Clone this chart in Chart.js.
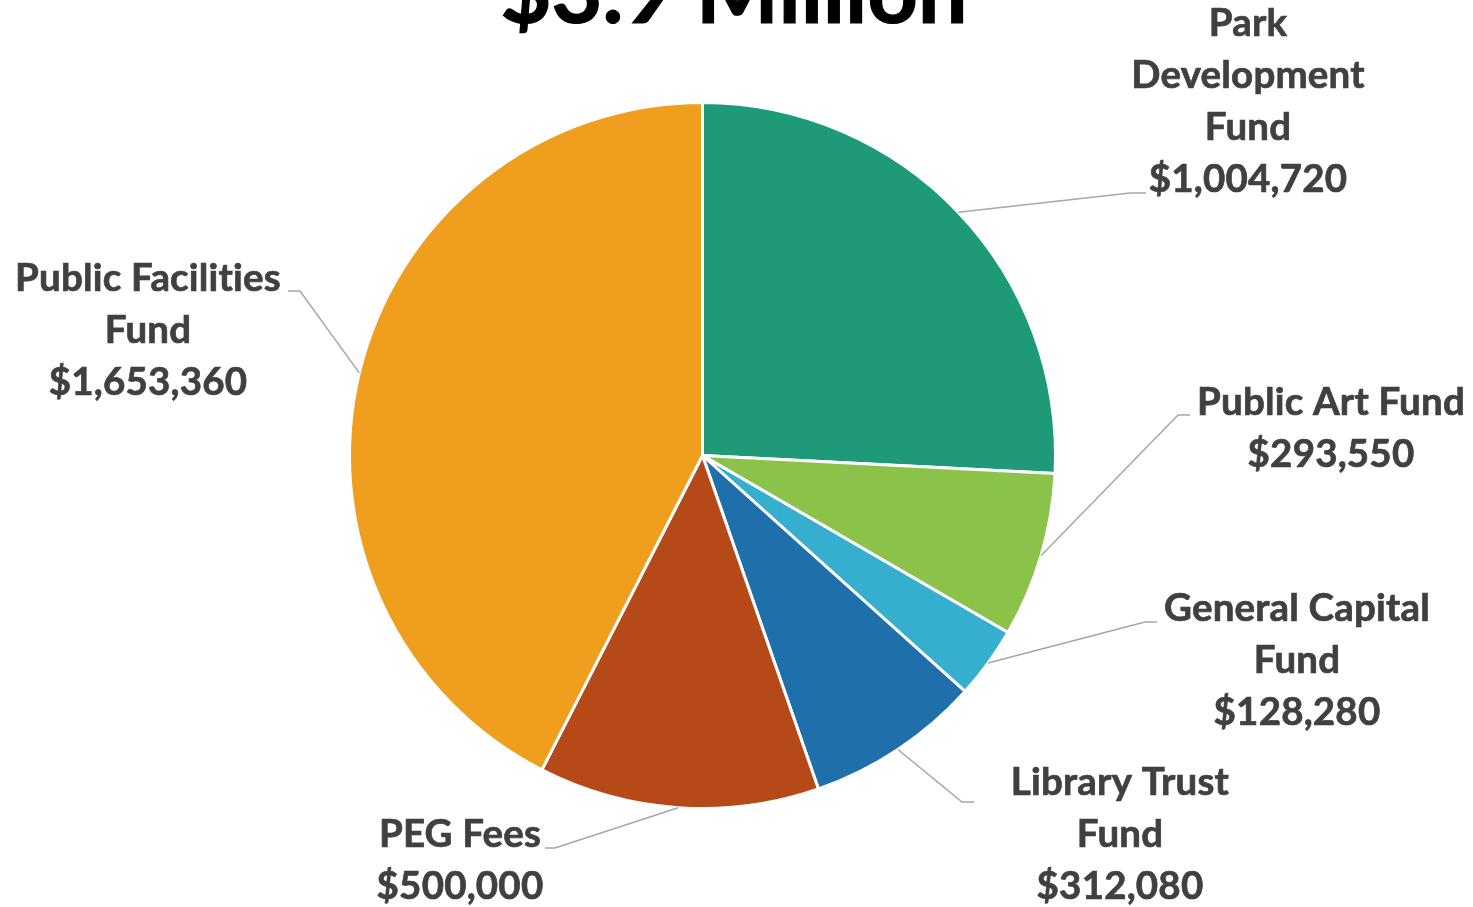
<!DOCTYPE html>
<html>
<head>
<meta charset="utf-8">
<script src="https://cdn.jsdelivr.net/npm/chart.js@4.4.1/dist/chart.umd.min.js"></script>
<style>
  html,body{margin:0;padding:0;background:#fff;}
  #wrap{width:1473px;height:907px;position:relative;}
</style>
</head>
<body>
<div id="wrap"><canvas id="c" width="1473" height="907"></canvas></div>
<script>
const categories = ["Park Development Fund","Public Art Fund","General Capital Fund","Library Trust Fund","PEG Fees","Public Facilities Fund"];
const values = [1004720, 293550, 128280, 312080, 500000, 1653360];
const labelLines = [
  ["Park","Development","Fund"],
  ["Public Art Fund"],
  ["General Capital","Fund"],
  ["Library Trust","Fund"],
  ["PEG Fees"],
  ["Public Facilities","Fund"]
];
const titleText = "$3.9 Million";

const colors = ["#1E9A78","#8BC34A","#36AFCF","#1F6FAA","#B54918","#F09E1D"];
// label layout: text center x, first baseline y, elbow point, line end
const labelLayout = [
  {x:1248, y:36,  elbow:[1130,193], end:[1146,193]},
  {x:1331, y:415, elbow:[1178,415], end:[1190,415]},
  {x:1297, y:621, elbow:[1145,622], end:[1157,622]},
  {x:1120, y:795, elbow:[962,802],  end:[974,802]},
  {x:460,  y:847, elbow:[555,848],  end:[545,848]},
  {x:148,  y:291, elbow:[300,291],  end:[288,291]}
];
const FONT = "Lato";
const fmt = v => "$" + v.toLocaleString("en-US");

function fitFont(ctx, text, width, weight, family){
  ctx.font = weight + " 100px " + family;
  const w = ctx.measureText(text).width;
  return 100 * width / w;
}

const labelPlugin = {
  id: 'labelPlugin',
  afterDraw(chart){
    const ctx = chart.ctx;
    const meta = chart.getDatasetMeta(0);
    ctx.save();
    if ('letterSpacing' in ctx) ctx.letterSpacing = "0.2px";
    // title
    const ts = fitFont(ctx, titleText, 467, "bold", FONT);
    ctx.font = "bold " + ts + "px " + FONT;
    ctx.fillStyle = "#000";
    ctx.strokeStyle = "#000";
    ctx.lineWidth = 1.2;
    ctx.textAlign = "center";
    ctx.textBaseline = "alphabetic";
    ctx.fillText(titleText, 734, 23);
    ctx.strokeText(titleText, 734, 23);

    const fs = fitFont(ctx, "Public Art Fund", 266, "bold", FONT);
    meta.data.forEach((arc, i) => {
      const p = arc.getProps(['x','y','startAngle','endAngle','outerRadius'], true);
      const mid = (p.startAngle + p.endAngle) / 2;
      const sx = p.x + Math.cos(mid) * p.outerRadius;
      const sy = p.y + Math.sin(mid) * p.outerRadius;
      const L = labelLayout[i];
      ctx.strokeStyle = "#A6A6A6";
      ctx.lineWidth = 1.5;
      ctx.beginPath();
      ctx.moveTo(sx, sy);
      ctx.lineTo(L.elbow[0], L.elbow[1]);
      ctx.lineTo(L.end[0], L.end[1]);
      ctx.stroke();
      const lines = labelLines[i].concat([fmt(values[i])]);
      ctx.font = "bold " + fs + "px " + FONT;
      ctx.fillStyle = "#404040";
      ctx.strokeStyle = "#404040";
      ctx.lineWidth = 0.7;
      ctx.textAlign = "center";
      lines.forEach((t, k) => {
        ctx.fillText(t, L.x, L.y + k * 52);
        ctx.strokeText(t, L.x, L.y + k * 52);
      });
    });
    ctx.restore();
  }
};

new Chart(document.getElementById('c'), {
  type: 'pie',
  data: {
    labels: categories,
    datasets: [{
      data: values,
      backgroundColor: colors,
      borderColor: "#ffffff",
      borderWidth: 3
    }]
  },
  options: {
    responsive: false,
    animation: false,
    layout: { padding: { left: 348, right: 416, top: 101, bottom: 97 } },
    plugins: { legend: { display: false }, tooltip: { enabled: false }, title: { display: false } }
  },
  plugins: [labelPlugin]
});
</script>
</body>
</html>
